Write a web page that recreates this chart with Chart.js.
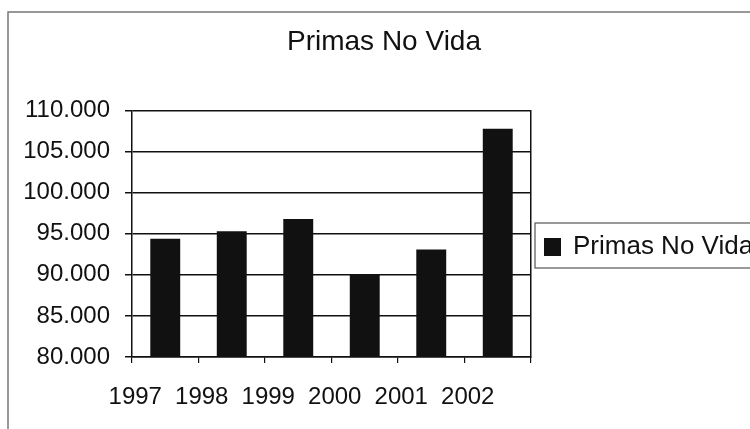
<!DOCTYPE html>
<html>
<head>
<meta charset="utf-8">
<script src="https://cdn.jsdelivr.net/npm/chart.js@4/dist/chart.umd.min.js"></script>
<style>
  html, body { margin: 0; padding: 0; background: #fff; }
  #wrap { width: 750px; height: 429px; }
</style>
</head>
<body>
<div id="wrap"><canvas id="primasChart" width="750" height="429"></canvas></div>
<script>
// datos
const years = ['1997', '1998', '1999', '2000', '2001', '2002'];
const primasNoVida = [94400, 95300, 96800, 90000, 93100, 107800];
const yTicks = [80000, 85000, 90000, 95000, 100000, 105000, 110000];
const seriesLabel = 'Primas No Vida';

const FONT = 'Arial, "Liberation Sans", sans-serif';
const INK = '#111';

// marco exterior + leyenda dibujada a mano (posición fija como en el original)
const framePlugin = {
    id: 'framePlugin',
    afterDraw(chart) {
        const ctx = chart.ctx;
        ctx.save();
        // borde del área del gráfico
        ctx.strokeStyle = '#777';
        ctx.lineWidth = 1.5;
        ctx.beginPath();
        ctx.moveTo(8, 429);
        ctx.lineTo(8, 12);
        ctx.lineTo(750, 12);
        ctx.stroke();

        // leyenda
        const ds = chart.data.datasets[0];
        ctx.strokeStyle = '#555';
        ctx.lineWidth = 1.2;
        ctx.strokeRect(535, 223, 230, 45);
        ctx.fillStyle = ds.backgroundColor;
        ctx.fillRect(544, 238, 17, 18);
        ctx.fillStyle = INK;
        ctx.font = '26px ' + FONT;
        ctx.textBaseline = 'middle';
        ctx.textAlign = 'left';
        ctx.fillText(ds.label, 573, 247);
        ctx.restore();
    }
};

const ctx = document.getElementById('primasChart').getContext('2d');
new Chart(ctx, {
    type: 'bar',
    data: {
        labels: years,
        datasets: [{
            label: seriesLabel,
            data: primasNoVida,
            backgroundColor: INK,
            borderWidth: 0,
            barPercentage: 0.45,
            categoryPercentage: 1
        }]
    },
    options: {
        responsive: false,
        animation: false,
        layout: { padding: { left: 18, right: 0, top: 0, bottom: 0 } },
        plugins: {
            legend: { display: false },
            tooltip: { enabled: false },
            title: {
                display: true,
                text: seriesLabel,
                color: INK,
                font: { family: FONT, size: 28, weight: 'normal' },
                padding: { top: 25, bottom: 52 }
            }
        },
        scales: {
            x: {
                grid: { display: true, drawOnChartArea: false, drawTicks: true, tickLength: 6, color: INK, lineWidth: 1.2, offset: true },
                border: { display: true, color: INK, width: 1.5 },
                ticks: {
                    color: INK,
                    font: { family: FONT, size: 24 },
                    padding: 20,
                    labelOffset: -30,
                    maxRotation: 0,
                    autoSkip: false
                },
                afterFit: s => { s.height = 72; }
            },
            y: {
                min: yTicks[0],
                max: yTicks[yTicks.length - 1],
                grid: { color: INK, lineWidth: 1.5, tickLength: 7 },
                border: { display: true, color: INK, width: 1.5 },
                ticks: {
                    stepSize: yTicks[1] - yTicks[0],
                    color: INK,
                    font: { family: FONT, size: 24 },
                    padding: 15,
                    callback: v => v.toLocaleString('es-ES')
                },
                afterFit: s => { s.width = 114; }
            },
            // eje vacío a la derecha: reserva el hueco de la leyenda y dibuja el borde derecho
            y2: {
                position: 'right',
                min: yTicks[0],
                max: yTicks[yTicks.length - 1],
                grid: { display: false },
                border: { display: true, color: INK, width: 1.5 },
                ticks: { display: false },
                afterFit: s => { s.width = 219; }
            }
        }
    },
    plugins: [framePlugin]
});
</script>
</body>
</html>
